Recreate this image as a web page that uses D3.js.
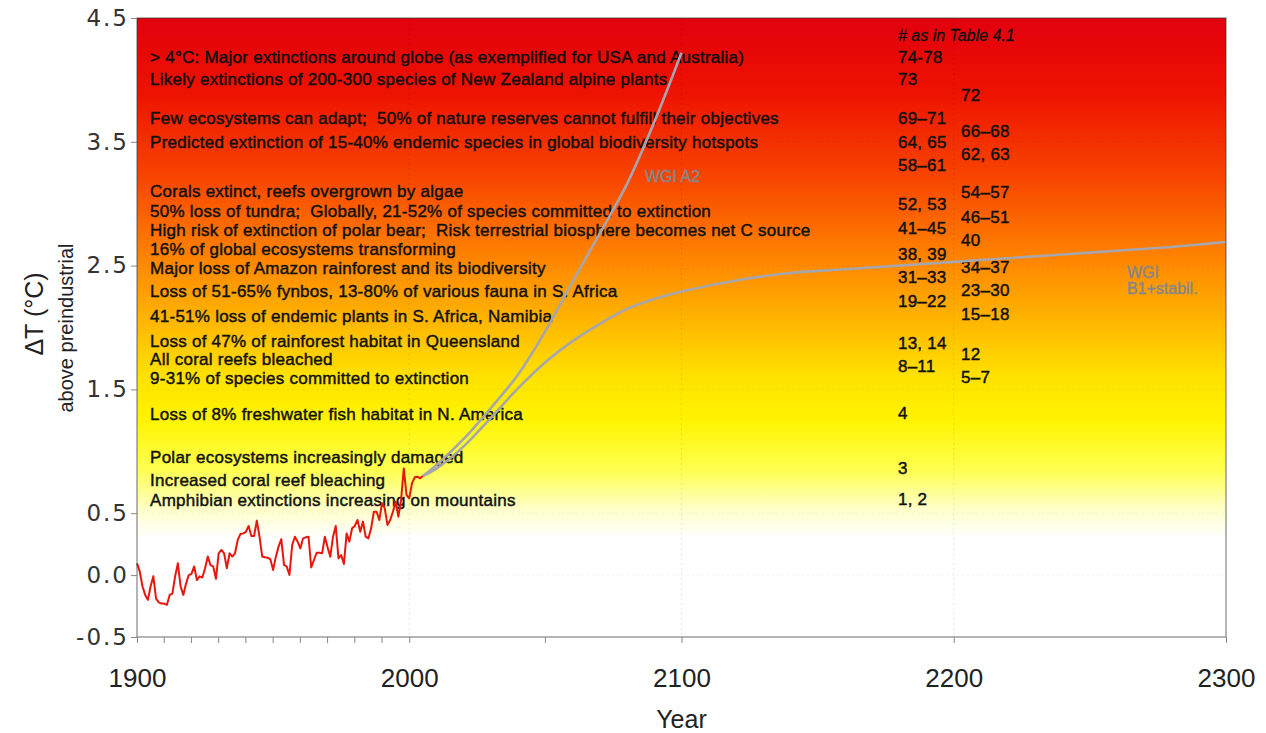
<!DOCTYPE html>
<html>
<head>
<meta charset="utf-8">
<script src="https://cdn.jsdelivr.net/npm/d3@7"></script>
<style>
  html, body { margin: 0; padding: 0; background: #fff; }
  svg { display: block; }
</style>
</head>
<body>
<svg id="chart" width="1266" height="733"></svg>
<script>
// ---------------- DATA ----------------
const obsStartYear = 1900;
const obsTemps = [
  0.095, 0.03, -0.09, -0.16, -0.20, -0.09, -0.01, -0.19, -0.22, -0.23,
  -0.23, -0.24, -0.16, -0.15, -0.01, 0.095, -0.09, -0.16, -0.07, 0.00,
  0.01, 0.07, -0.04, -0.01, -0.02, 0.055, 0.15, 0.08, 0.07, -0.03,
  0.176, 0.203, 0.176, 0.055, 0.176, 0.15, 0.176, 0.284, 0.332, 0.337,
  0.35, 0.397, 0.316, 0.316, 0.44, 0.31, 0.15, 0.144, 0.141, 0.127,
  0.041, 0.149, 0.23, 0.29, 0.082, 0.068, 0.001, 0.243, 0.31, 0.27,
  0.216, 0.297, 0.305, 0.31, 0.063, 0.122, 0.181, 0.181, 0.176, 0.31,
  0.224, 0.149, 0.31, 0.397, 0.135, 0.162, 0.09, 0.337, 0.27, 0.378,
  0.397, 0.445, 0.35, 0.432, 0.31, 0.297, 0.378, 0.512, 0.512, 0.445,
  0.58, 0.54, 0.405, 0.445, 0.512, 0.593, 0.472, 0.607, 0.862, 0.647,
  0.62, 0.741, 0.79, 0.795, 0.782, 0.80
];

const a2Years = [2005, 2010, 2020, 2030, 2040, 2050, 2060, 2070, 2080, 2090, 2100];
const a2Temps = [0.80, 0.89, 1.10, 1.35, 1.62, 1.97, 2.37, 2.76, 3.16, 3.66, 4.22];

const b1Years = [2005, 2010, 2020, 2030, 2040, 2050, 2060, 2070, 2080, 2090, 2100, 2120, 2140, 2160, 2180, 2200, 2220, 2240, 2260, 2280, 2300];
const b1Temps = [0.80, 0.86, 1.04, 1.27, 1.51, 1.72, 1.89, 2.03, 2.15, 2.23, 2.29, 2.38, 2.44, 2.47, 2.50, 2.53, 2.56, 2.59, 2.62, 2.65, 2.69];

const impactTexts = [
  "> 4°C: Major extinctions around globe (as exemplified for USA and Australia)",
  "Likely extinctions of 200-300 species of New Zealand alpine plants",
  "Few ecosystems can adapt;  50% of nature reserves cannot fulfill their objectives",
  "Predicted extinction of 15-40% endemic species in global biodiversity hotspots",
  "Corals extinct, reefs overgrown by algae",
  "50% loss of tundra;  Globally, 21-52% of species committed to extinction",
  "High risk of extinction of polar bear;  Risk terrestrial biosphere becomes net C source",
  "16% of global ecosystems transforming",
  "Major loss of Amazon rainforest and its biodiversity",
  "Loss of 51-65% fynbos, 13-80% of various fauna in S. Africa",
  "41-51% loss of endemic plants in S. Africa, Namibia",
  "Loss of 47% of rainforest habitat in Queensland",
  "All coral reefs bleached",
  "9-31% of species committed to extinction",
  "Loss of 8% freshwater fish habitat in N. America",
  "Polar ecosystems increasingly damaged",
  "Increased coral reef bleaching",
  "Amphibian extinctions increasing on mountains"
];
const impactTemps = [4.185, 4.007, 3.692, 3.498, 3.103, 2.941, 2.788, 2.634, 2.481, 2.295, 2.093, 1.891, 1.746, 1.592, 1.301, 0.954, 0.768, 0.607];

const refCol1Texts = ["74-78", "73", "69–71", "64, 65", "58–61", "52, 53", "41–45", "38, 39", "31–33", "19–22", "13, 14", "8–11", "4", "3", "1, 2"];
const refCol1Temps = [4.185, 4.007, 3.692, 3.498, 3.313, 2.998, 2.804, 2.594, 2.408, 2.214, 1.875, 1.689, 1.309, 0.865, 0.615];
const refCol2Texts = ["72", "66–68", "62, 63", "54–57", "46–51", "40", "34–37", "23–30", "15–18", "12", "5–7"];
const refCol2Temps = [3.878, 3.587, 3.401, 3.095, 2.893, 2.707, 2.489, 2.303, 2.109, 1.786, 1.600];
const tableNote = "# as in Table 4.1";
const tableNoteTemp = 4.363;

const yTickValues = [-0.5, 0.0, 0.5, 1.5, 2.5, 3.5, 4.5];
const yTickLabels = ["-0.5", "0.0", "0.5", "1.5", "2.5", "3.5", "4.5"];
const xTickValues = [1900, 2000, 2100, 2200, 2300];
const xTickLabels = ["1900", "2000", "2100", "2200", "2300"];
const xMinorTicks = [1910, 1920, 1930, 1940, 1950, 1960, 1970, 1980, 1990, 2050];
const xGridValues = [2000, 2100, 2200];

const gradientStops = [
  [0.00, "#e2000e"], [0.12, "#ee1200"], [0.26, "#f84600"], [0.40, "#ff8a00"],
  [0.49, "#ffb600"], [0.58, "#ffe200"], [0.65, "#fff400"], [0.73, "#ffff50"],
  [0.795, "#ffffcc"], [0.84, "#ffffff"], [1.00, "#ffffff"]
];

// ---------------- LAYOUT ----------------
const W = 1266, H = 733;
const margin = { top: 18, right: 40, bottom: 96, left: 137 };
const svg = d3.select("#chart");

const x = d3.scaleLinear().domain([1900, 2300]).range([margin.left, W - margin.right]);
const y = d3.scaleLinear().domain([-0.5, 4.5]).range([H - margin.bottom, margin.top]);

const defs = svg.append("defs");
const grad = defs.append("linearGradient")
  .attr("id", "bg").attr("x1", 0).attr("y1", 0).attr("x2", 0).attr("y2", 1);
gradientStops.forEach(([o, c]) => grad.append("stop").attr("offset", o).attr("stop-color", c));

const plotW = x(2300) - x(1900), plotH = y(-0.5) - y(4.5);

svg.append("rect")
  .attr("x", x(1900)).attr("y", y(4.5))
  .attr("width", plotW).attr("height", plotH)
  .attr("fill", "url(#bg)");

// grid lines (faint dotted)
svg.append("g").selectAll("line").data(xGridValues).join("line")
  .attr("x1", d => x(d)).attr("x2", d => x(d))
  .attr("y1", y(4.5)).attr("y2", y(-0.5))
  .attr("stroke", "rgba(0,0,0,0.10)").attr("stroke-dasharray", "2,3");
svg.append("g").selectAll("line").data(yTickValues.slice(1, -1)).join("line")
  .attr("x1", x(1900)).attr("x2", x(2300))
  .attr("y1", d => y(d)).attr("y2", d => y(d))
  .attr("stroke", "rgba(0,0,0,0.06)").attr("stroke-dasharray", "2,3");

// ---------------- TEXT LABELS ----------------
const labelFont = "'Liberation Sans', Arial, Helvetica, sans-serif";
const gLabels = svg.append("g")
  .attr("font-family", labelFont).attr("font-size", 17)
  .attr("letter-spacing", 0.25)
  .attr("fill", "#111").attr("stroke", "#111").attr("stroke-width", 0.45);

gLabels.selectAll("text.impact").data(impactTexts).join("text")
  .attr("class", "impact")
  .attr("x", x(1904.8))
  .attr("y", (d, i) => y(impactTemps[i]))
  .attr("dy", "0.36em")
  .attr("xml:space", "preserve")
  .style("white-space", "pre")
  .text(d => d);

gLabels.selectAll("text.c1").data(refCol1Texts).join("text")
  .attr("class", "c1")
  .attr("x", x(2179.5))
  .attr("y", (d, i) => y(refCol1Temps[i]))
  .attr("dy", "0.36em")
  .text(d => d);

gLabels.selectAll("text.c2").data(refCol2Texts).join("text")
  .attr("class", "c2")
  .attr("x", x(2202.7))
  .attr("y", (d, i) => y(refCol2Temps[i]))
  .attr("dy", "0.36em")
  .text(d => d);

gLabels.append("text")
  .attr("x", x(2179.5)).attr("y", y(tableNoteTemp)).attr("dy", "0.36em")
  .attr("font-style", "italic").attr("font-size", 16).attr("letter-spacing", 0)
  .attr("stroke-width", 0.3)
  .text(tableNote);

// ---------------- LINES ----------------
const line = d3.line().x(d => x(d[0])).y(d => y(d[1]));
const lineSmooth = d3.line().x(d => x(d[0])).y(d => y(d[1])).curve(d3.curveCatmullRom.alpha(0.5));

const a2Data = a2Years.map((yr, i) => [yr, a2Temps[i]]);
const b1Data = b1Years.map((yr, i) => [yr, b1Temps[i]]);
const obsData = obsTemps.map((t, i) => [obsStartYear + i, t]);

svg.append("path").datum(b1Data)
  .attr("d", lineSmooth).attr("fill", "none")
  .attr("stroke", "#a6a6ac").attr("stroke-width", 2.6);
svg.append("path").datum(a2Data)
  .attr("d", lineSmooth).attr("fill", "none")
  .attr("stroke", "#a6a6ac").attr("stroke-width", 2.6);

svg.append("path").datum(obsData)
  .attr("d", line).attr("fill", "none")
  .attr("stroke", "#e8170e").attr("stroke-width", 2)
  .attr("stroke-linejoin", "round");

// scenario labels
const gScen = svg.append("g").attr("font-family", labelFont).attr("font-size", 16)
  .attr("fill", "#878787").attr("stroke", "#878787").attr("stroke-width", 0.45);
gScen.append("text").attr("x", x(2086.6)).attr("y", y(3.22)).attr("dy", "0.36em").text("WGI A2");
gScen.append("text").attr("x", x(2263.6)).attr("y", y(2.45)).attr("dy", "0.36em").text("WGI");
gScen.append("text").attr("x", x(2263.6)).attr("y", y(2.32)).attr("dy", "0.36em").text("B1+stabil.");

// ---------------- FRAME & AXES ----------------
svg.append("rect")
  .attr("x", x(1900)).attr("y", y(4.5))
  .attr("width", plotW).attr("height", plotH)
  .attr("fill", "none").attr("stroke", "rgba(50,50,50,0.6)").attr("stroke-width", 1.2);

const yAxis = d3.axisLeft(y).tickValues(yTickValues)
  .tickFormat((d, i) => yTickLabels[i]).tickSize(6).tickPadding(2);
const gy = svg.append("g").attr("transform", `translate(${x(1900)},0)`).call(yAxis);
gy.select(".domain").remove();
gy.selectAll(".tick line").attr("stroke", "#888");
gy.selectAll(".tick text")
  .attr("font-family", "'DejaVu Sans', sans-serif").attr("font-size", 23)
  .attr("letter-spacing", 2).attr("fill", "#333");

const xAxis = d3.axisBottom(x).tickValues(xTickValues)
  .tickFormat((d, i) => xTickLabels[i]).tickSize(6).tickPadding(26);
const gx = svg.append("g").attr("transform", `translate(0,${y(-0.5)})`).call(xAxis);
gx.select(".domain").remove();
gx.selectAll(".tick line").attr("stroke", "#888");
gx.selectAll(".tick text")
  .attr("font-family", labelFont).attr("font-size", 26).attr("fill", "#222");

svg.append("g").selectAll("line").data(xMinorTicks).join("line")
  .attr("x1", d => x(d)).attr("x2", d => x(d))
  .attr("y1", y(-0.5)).attr("y2", y(-0.5) + 6)
  .attr("stroke", "#888");

// axis titles
svg.append("text")
  .attr("x", x(2100)).attr("y", 728)
  .attr("text-anchor", "middle")
  .attr("font-family", labelFont).attr("font-size", 25).attr("fill", "#222")
  .text("Year");

svg.append("text")
  .attr("transform", `translate(43,314) rotate(-90)`)
  .attr("text-anchor", "middle")
  .attr("font-family", labelFont).attr("font-size", 25).attr("fill", "#222")
  .text("ΔT (°C)");

svg.append("text")
  .attr("transform", `translate(73,328) rotate(-90)`)
  .attr("text-anchor", "middle")
  .attr("font-family", labelFont).attr("font-size", 20).attr("fill", "#222")
  .text("above preindustrial");
</script>
</body>
</html>
